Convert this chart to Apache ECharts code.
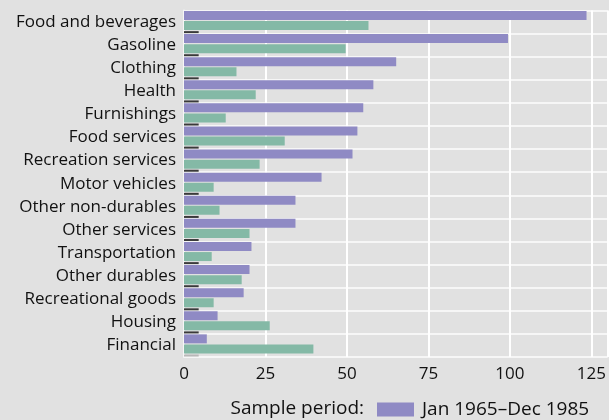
<!DOCTYPE html>
<html>
<head>
<meta charset="utf-8">
<script src="https://cdn.jsdelivr.net/npm/echarts@6/dist/echarts.min.js"></script>
<style>
  html, body { margin: 0; padding: 0; background: #e1e1e1; }
  #chart { width: 609px; height: 420px; }
</style>
</head>
<body>
<div id="chart"></div>
<script>
const categories = ['Food and beverages', 'Gasoline', 'Clothing', 'Health', 'Furnishings',
  'Food services', 'Recreation services', 'Motor vehicles', 'Other non-durables', 'Other services',
  'Transportation', 'Other durables', 'Recreational goods', 'Housing', 'Financial']
const early = [123.5, 99.4, 65.1, 58.1, 55.0, 53.2, 51.7, 42.2, 34.2, 34.2, 20.7, 20.1, 18.3, 10.3, 7.0]
const late = [56.6, 49.6, 16.1, 22.0, 12.8, 30.9, 23.2, 9.1, 10.9, 20.1, 8.5, 17.7, 9.1, 26.3, 39.7]
const marks = [4.5, 4.5, 4.5, 4.5, 4.5, 4.5, 4.5, 4.5, 4.5, 4.5, 4.5, 4.5, 4.5, 4.5, 4.5]
const xTicks = [0, 25, 50, 75, 100, 125]

const chart = echarts.init(document.getElementById('chart'))
const font = '"Open Sans", "Noto Sans", sans-serif'

chart.setOption({
  backgroundColor: '#e1e1e1',
  animation: false,
  textStyle: { fontFamily: font },
  grid: { left: 184, right: 0, top: 10.5, bottom: 63 },
  legend: {
    data: ['Jan 1965–Dec 1985'],
    left: 372,
    top: 395,
    itemWidth: 37,
    itemHeight: 14,
    itemGap: 8,
    icon: 'rect',
    textStyle: { fontSize: 19, color: '#111', fontFamily: font, padding: [0, 0, 0, 3] }
  },
  graphic: [{
    type: 'text',
    right: 609 - 364,
    top: 399,
    style: { text: 'Sample period:', fontSize: 19, fill: '#111', fontFamily: font }
  }],
  xAxis: {
    type: 'value',
    min: 0,
    max: 130,
    interval: 25,
    axisLine: { show: false },
    axisTick: { show: false },
    axisLabel: {
      fontSize: 17,
      color: '#111',
      margin: 9,
      showMaxLabel: false,
      formatter: v => (xTicks.includes(v) ? String(v) : '')
    },
    splitLine: { show: true, lineStyle: { color: '#ffffff', width: 2 } }
  },
  yAxis: {
    type: 'category',
    inverse: true,
    data: categories,
    axisLine: { show: true, lineStyle: { color: '#f6f6f6', width: 2 } },
    axisTick: { show: false },
    axisLabel: { fontSize: 17, color: '#111', margin: 8 },
    splitLine: { show: true, lineStyle: { color: '#f6f6f6', width: 2 } }
  },
  series: [
    {
      name: 'Jan 1965–Dec 1985',
      type: 'bar',
      data: early,
      barWidth: 9,
      barGap: '12%',
      itemStyle: { color: '#8f8ac4' }
    },
    {
      name: 'Later period',
      type: 'bar',
      data: late,
      barWidth: 9,
      itemStyle: { color: '#84b9a6' }
    },
    {
      name: 'marks',
      type: 'bar',
      data: marks.map((v, i) => (i === marks.length - 1
        ? { value: v, itemStyle: { color: '#b8b8b8' } } : v)),
      barWidth: 2,
      itemStyle: { color: '#3a3a3a' }
    }
  ]
})
</script>
</body>
</html>
